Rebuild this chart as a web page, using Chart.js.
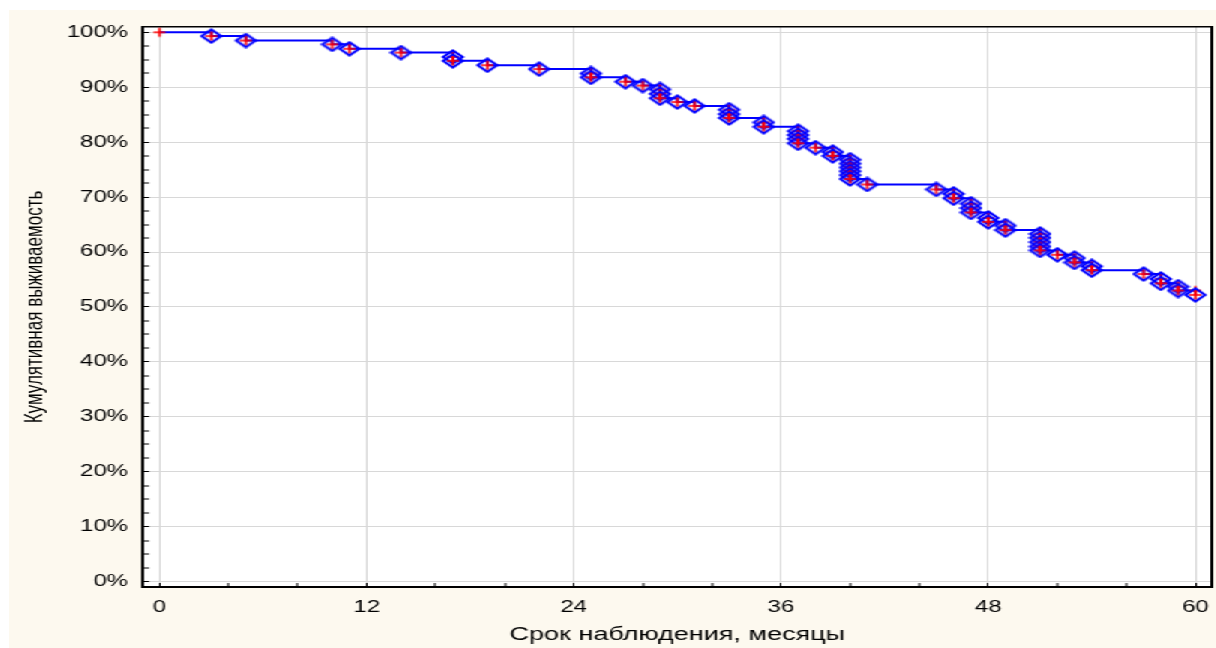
<!DOCTYPE html>
<html>
<head>
<meta charset="utf-8">
<script src="https://cdn.jsdelivr.net/npm/chart.js@4/dist/chart.umd.min.js"></script>
<style>
  html, body { margin: 0; padding: 0; background: #ffffff; width: 1216px; height: 648px; overflow: hidden; }
  #wrap {
    position: absolute; left: 9px; top: 10px;
    width: 805px; height: 638px;
    background: #fdf9ef;
    transform: scaleX(1.5); transform-origin: 0 0;
  }
  canvas { display: block; }
</style>
</head>
<body>
<div id="wrap"><canvas id="c"></canvas></div>
<script>
// ---- data ----
const months = [0, 3, 5, 10, 11, 14, 17, 17, 19, 22, 25, 25, 27, 28, 29, 29, 29, 30, 31,
  33, 33, 33, 35, 35, 37, 37, 37, 37, 38, 39, 39, 40, 40, 40, 40, 40, 40, 41,
  45, 46, 46, 47, 47, 47, 48, 48, 49, 49, 51, 51, 51, 51, 51, 52, 53, 53, 54, 54,
  57, 58, 58, 59, 59, 60, 60];
const survival = [100, 99.3, 98.5, 97.8, 97.0, 96.3, 95.5, 94.8, 94.0, 93.3, 92.5, 91.8, 91.0, 90.3, 89.6, 88.8, 88.0, 87.3, 86.6,
  85.9, 85.1, 84.4, 83.6, 82.8, 82.0, 81.3, 80.6, 79.8, 79.0, 78.2, 77.5, 76.8, 76.1, 75.4, 74.7, 74.0, 73.3, 72.3,
  71.4, 70.6, 69.8, 68.8, 68.0, 67.2, 66.2, 65.5, 64.8, 64.0, 63.3, 62.6, 61.8, 61.0, 60.3, 59.5, 58.9, 58.1, 57.4, 56.7,
  56.0, 55.1, 54.3, 53.7, 53.0, 53.0, 52.2];
// 'e' = complete (event) observation, 'c' = censored observation
const observationType = ['c', 'e', 'e', 'e', 'e', 'e', 'e', 'e', 'e', 'e', 'e', 'e', 'e', 'e', 'e', 'e', 'e', 'e', 'e',
  'e', 'e', 'e', 'e', 'e', 'e', 'e', 'e', 'e', 'e', 'e', 'e', 'e', 'e', 'e', 'e', 'e', 'e', 'e',
  'e', 'e', 'e', 'e', 'e', 'e', 'e', 'e', 'e', 'e', 'e', 'e', 'e', 'e', 'e', 'e', 'e', 'e', 'e', 'e',
  'e', 'e', 'e', 'e', 'e', 'c', 'e'];
const xTickLabels = [0, 12, 24, 36, 48, 60];
const yTickLabels = [0, 10, 20, 30, 40, 50, 60, 70, 80, 90, 100];
const xTitle = 'Срок наблюдения, месяцы';
const yTitle = 'Кумулятивная выживаемость';

// ---- marker images ----
function makeMarker(withDiamond) {
  const cv = document.createElement('canvas');
  cv.width = 16; cv.height = 16;
  const g = cv.getContext('2d');
  if (withDiamond) {
    g.strokeStyle = '#0000ff';
    g.lineWidth = 2;
    g.beginPath();
    g.moveTo(1.5, 8); g.lineTo(8, 1.5); g.lineTo(14.5, 8); g.lineTo(8, 14.5); g.closePath();
    g.stroke();
  }
  g.strokeStyle = '#ff0000';
  g.lineWidth = 1.6;
  g.beginPath();
  g.moveTo(4, 8); g.lineTo(12, 8);
  g.moveTo(8, 3.5); g.lineTo(8, 12.5);
  g.stroke();
  return cv;
}
const diamondImg = makeMarker(true);
const plusImg = makeMarker(false);

const points = months.map((m, i) => ({ x: m, y: survival[i] }));
const FONT = "'Liberation Sans', Arial, sans-serif";

function noPad(s) { s.paddingTop = 0; s.paddingBottom = 0; s.paddingLeft = 0; s.paddingRight = 0; }

const plotBackground = {
  id: 'plotBackground',
  beforeDraw(chart) {
    const a = chart.chartArea;
    const ctx = chart.ctx;
    ctx.save();
    ctx.fillStyle = '#ffffff';
    ctx.fillRect(a.left, a.top, a.right - a.left, a.bottom - a.top);
    ctx.restore();
  }
};

new Chart(document.getElementById('c'), {
  type: 'line',
  data: {
    datasets: [{
      data: points,
      stepped: true,
      borderColor: '#0000ff',
      borderWidth: 2,
      fill: false,
      pointStyle: (ctx) => observationType[ctx.dataIndex] === 'c' ? plusImg : diamondImg,
      pointRadius: 6,
      pointHoverRadius: 6
    }]
  },
  plugins: [plotBackground],
  options: {
    responsive: true,
    maintainAspectRatio: false,
    animation: false,
    layout: { autoPadding: false, padding: { top: 17, right: 3, left: 0, bottom: 0 } },
    plugins: { legend: { display: false }, tooltip: { enabled: false } },
    scales: {
      x: {
        type: 'linear', position: 'bottom',
        min: -0.95, max: 60.95,
        afterFit: (s) => { s.height = 61; noPad(s); },
        ticks: {
          stepSize: 4, includeBounds: false, autoSkip: false, maxRotation: 0,
          padding: 15, color: '#000', font: { family: FONT, size: 16 },
          callback: (v) => xTickLabels.includes(v) ? String(v) : ''
        },
        grid: {
          drawTicks: true, tickLength: -4, tickColor: '#000', tickWidth: 1,
          color: '#d8d8d8',
          lineWidth: (ctx) => (ctx.tick && xTickLabels.includes(ctx.tick.value)) ? 1 : 0
        },
        border: { color: '#000', width: 2 },
        title: { display: true, text: xTitle, color: '#000', font: { family: FONT, size: 18 }, padding: { top: 0, bottom: 2 } }
      },
      y: {
        type: 'linear', position: 'left',
        min: -0.96, max: 100.96,
        afterFit: (s) => { s.width = 89.3; noPad(s); },
        ticks: {
          stepSize: 2.5, includeBounds: false, autoSkip: false,
          padding: 14, color: '#000', font: { family: FONT, size: 16 },
          callback: (v) => yTickLabels.includes(v) ? v + '%' : ''
        },
        grid: {
          drawTicks: true, tickLength: -4, tickColor: '#000', tickWidth: 1,
          color: '#d8d8d8',
          lineWidth: (ctx) => (ctx.tick && yTickLabels.includes(ctx.tick.value)) ? 1 : 0
        },
        border: { color: '#000', width: 2 },
        title: { display: true, text: yTitle, color: '#000', font: { family: FONT, size: 17 }, padding: { top: 7, bottom: 0 } }
      },
      x2: {
        type: 'linear', position: 'top', display: true,
        afterFit: (s) => { s.height = 0; noPad(s); },
        ticks: { display: false }, grid: { display: false, drawTicks: false },
        border: { display: true, color: '#000', width: 1.5 }
      },
      y2: {
        type: 'linear', position: 'right', display: true,
        afterFit: (s) => { s.width = 0; noPad(s); },
        ticks: { display: false }, grid: { display: false, drawTicks: false },
        border: { display: true, color: '#000', width: 2 }
      }
    }
  }
});
</script>
</body>
</html>
